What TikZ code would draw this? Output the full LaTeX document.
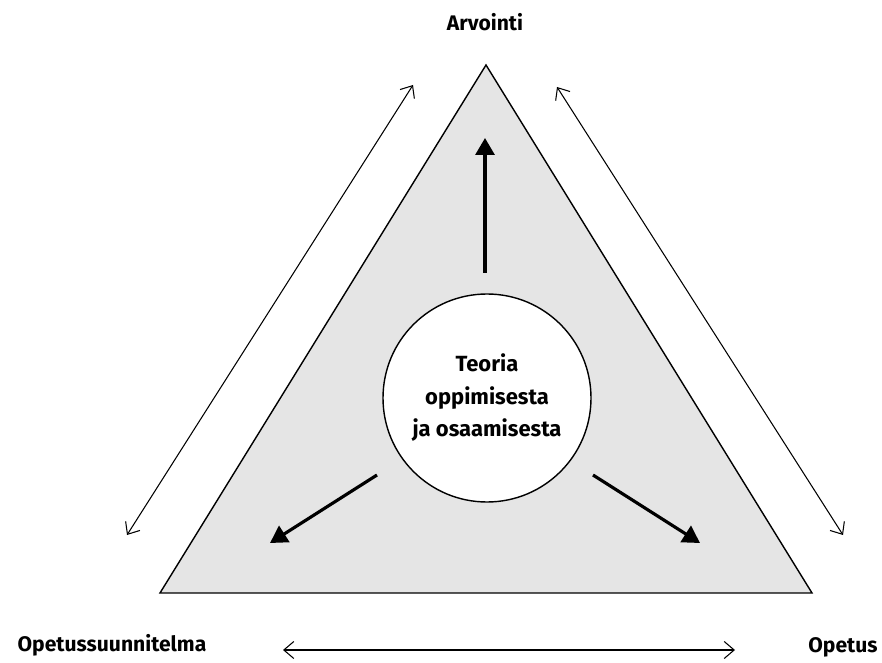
\documentclass[tikz,border=0pt]{standalone}
\usepackage{fontspec}
\setmainfont{Fira Sans}
\usetikzlibrary{arrows.meta}
\begin{document}
\begin{tikzpicture}[>=Stealth,
    lbl/.style={font=\fontsize{12}{14}\selectfont\bfseries},
    thinarr/.style={{Straight Barb[length=2mm,width=3.4mm]}-{Straight Barb[length=2mm,width=3.4mm]},line width=0.6pt},
    thickarr/.style={-{Triangle[length=3.4mm,width=3.8mm]},line width=1.8pt}]
    \useasboundingbox (0,0) rectangle (17.64,-13.26);
    % kolmio
    \draw[fill=gray!20,line width=0.8pt] (3.20,-11.86) coordinate (vas) -- (9.72,-1.30) coordinate (ylä) -- (16.24,-11.86) coordinate (oik) -- cycle;
    \node[draw,circle,fill=white,line width=0.8pt,minimum size=4.16cm,align=center,
        font=\fontsize{12.5}{18.5}\selectfont\bfseries] (teoria) at (9.74,-7.96) {Teoria\\oppimisesta\\ja osaamisesta};
    % kulmien tekstit
    \node[lbl] (arvointi) at (9.70,-0.44) {Arvointi};
    \node[lbl] (ops) at (2.24,-12.90) {Opetussuunnitelma};
    \node[lbl] (opetus) at (16.86,-12.94) {Opetus};
    % ohuet nuolet
    \coordinate (v1) at (2.54,-10.70);
    \coordinate (v2) at (8.26,-1.70);
    \coordinate (o1) at (11.14,-1.74);
    \coordinate (o2) at (16.86,-10.70);
    \coordinate (a1) at (5.66,-13.00);
    \coordinate (a2) at (14.70,-13.00);
    \draw[thinarr] (v1) -- (v2);
    \draw[thinarr] (o1) -- (o2);
    \draw[thinarr] (a1) -- (a2);
    % paksut nuolet
    \coordinate (n1) at (9.70,-5.46);
    \coordinate (n2) at (9.70,-2.76);
    \coordinate (n3) at (7.54,-9.50);
    \coordinate (n4) at (5.40,-10.86);
    \coordinate (n5) at (11.86,-9.50);
    \coordinate (n6) at (14.00,-10.86);
    \draw[thickarr] (n1) -- (n2);
    \draw[thickarr] (n3) -- (n4);
    \draw[thickarr] (n5) -- (n6);
\end{tikzpicture}
\end{document}
